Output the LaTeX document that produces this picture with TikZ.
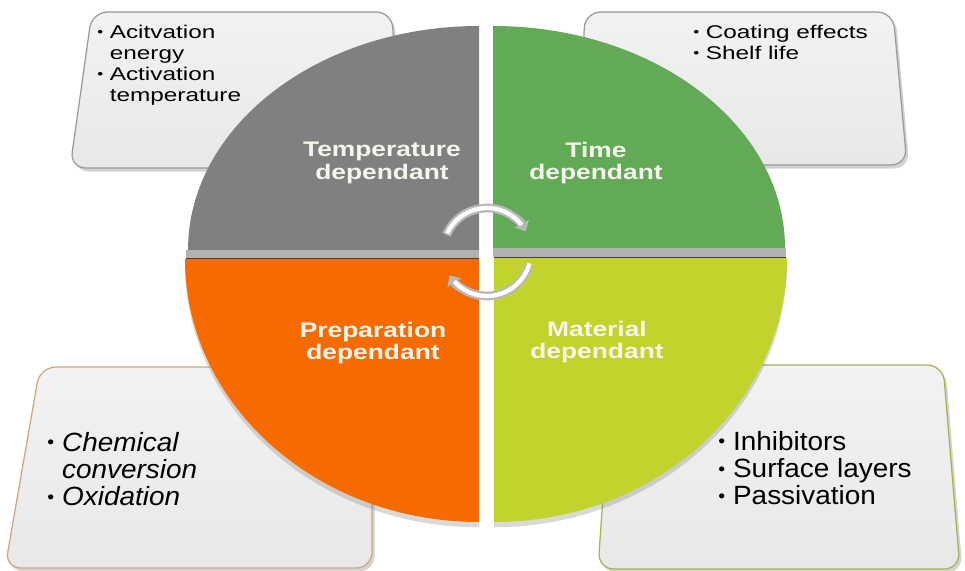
\documentclass[tikz,border=0pt]{standalone}
\usepackage{fontspec}
\setmainfont{Liberation Sans}
\newfontfamily\topfont[FakeStretch=1.32]{Liberation Sans}
\newfontfamily\lowfont[FakeStretch=1.06]{Liberation Sans}
\newfontfamily\sectfont[FakeStretch=1.25]{Liberation Sans}
\usepackage{tikz}
\usetikzlibrary{arrows.meta,shadows}
\usepackage{xcolor}
\definecolor{sectgray}{RGB}{127,128,127}
\definecolor{sectgreen}{RGB}{98,170,86}
\definecolor{sectorange}{RGB}{245,107,2}
\definecolor{sectlime}{RGB}{195,211,45}
\definecolor{labelwhite}{RGB}{246,246,238}
\definecolor{rimgray}{RGB}{178,178,180}

% small list bullet
\newcommand\dotmark{\raisebox{.1em}{\scalebox{.7}{\textbullet}}}

\tikzset{
  infobox/.style={draw=#1, line width=0.7pt, rounded corners=9pt,
    top color=black!5, bottom color=black!9,
    drop shadow={shadow xshift=1.5pt, shadow yshift=-2pt, opacity=0.35}},
  toptext/.style={font=\topfont\fontsize{10.5}{12}\selectfont, anchor=north west, inner sep=0pt},
  lowtext/.style={font=\lowfont\fontsize{15}{15.5}\selectfont, anchor=north west, inner sep=0pt},
  sectlabel/.style={font=\sectfont\bfseries\fontsize{12}{13}\selectfont, text=labelwhite, align=center},
  cycarrow/.style={line width=5pt, draw=gray!55, -{Triangle[width=9pt,length=5pt]}},
  cycinner/.style={line width=2.4pt, draw=white}
}

\begin{document}
\begin{tikzpicture}[x=0.02cm, y=-0.02cm]
    \useasboundingbox (0,0) rectangle (965,571);

    % Note cards behind the quarters
    \path[infobox=gray!80] (92,12) -- (392,12) -- (400,168) -- (70,168) -- cycle;
    \path[infobox=gray!80] (585,12) -- (893,12) -- (907,165) -- (578,165) -- cycle;
    \path[infobox=orange!45!gray!70] (40,367) -- (372,367) -- (372,568) -- (5,568) -- cycle;
    \path[infobox=sectlime!60!gray] (612,365) -- (943,365) -- (960,569) -- (598,569) -- cycle;

    % Four quarters (upper half is a little flatter)
    \fill[sectgray] (479,250) -- (188,250) arc[start angle=180, end angle=270, x radius=291, y radius=224] -- cycle;
    \fill[sectgreen] (493,248) -- (493,26) arc[start angle=270, end angle=360, x radius=292, y radius=222] -- cycle;
    \fill[sectorange, drop shadow={shadow xshift=0pt, shadow yshift=-3pt, opacity=0.3}]
        (479,259) -- (479,522) arc[start angle=90, end angle=180, x radius=294, y radius=263] -- cycle;
    \fill[sectlime, drop shadow={shadow xshift=0pt, shadow yshift=-3pt, opacity=0.3}]
        (494,258) -- (787,258) arc[start angle=0, end angle=90, x radius=293, y radius=264] -- cycle;

    % Rim under the upper half
    \fill[rimgray] (186,250) rectangle (479,258);
    \fill[rimgray] (493,248) rectangle (786,257);
    \draw[black!75, line width=0.6pt] (186,258.5) -- (479,258.5);
    \draw[black!75, line width=0.6pt] (494,257.5) -- (786,257.5);

    % Quarter labels
    \node[sectlabel] (temp) at (382,163) {Temperature\\dependant};
    \node[sectlabel] (time) at (596,163) {Time\\dependant};
    \node[sectlabel] (prep) at (373,343) {Preparation\\dependant};
    \node[sectlabel] (mat)  at (597,342) {Material\\dependant};

    % Card texts
    \node[toptext] (tempnotes) at (97,23) {\begin{tabular}{@{}l@{\hspace{.35em}}l@{}}
        \dotmark & Acitvation\\ & energy\\ \dotmark & Activation\\ & temperature\end{tabular}};
    \node[toptext] (timenotes) at (693,23) {\begin{tabular}{@{}l@{\hspace{.35em}}l@{}}
        \dotmark & Coating effects\\ \dotmark & Shelf life\end{tabular}};
    \node[lowtext] (prepnotes) at (47,432) {\begin{tabular}{@{}l@{\hspace{.3em}}l@{}}
        \dotmark & \textit{Chemical}\\ & \textit{conversion}\\ \dotmark & \textit{Oxidation}\end{tabular}};
    \node[lowtext] (matnotes) at (718,431) {\begin{tabular}{@{}l@{\hspace{.3em}}l@{}}
        \dotmark & Inhibitors\\ \dotmark & Surface layers\\ \dotmark & Passivation\end{tabular}};

    % Cycle arrows in the middle
    \coordinate (hub) at (487,252);
    \draw[cycarrow] ([shift={(203:44)}]hub) arc[start angle=203, end angle=332, radius=44];
    \draw[cycinner] ([shift={(205:44)}]hub) arc[start angle=205, end angle=322, radius=44];
    \draw[cycarrow] ([shift={(17:44)}]hub) arc[start angle=17, end angle=148, radius=44];
    \draw[cycinner] ([shift={(15:44)}]hub) arc[start angle=15, end angle=138, radius=44];
\end{tikzpicture}
\end{document}
